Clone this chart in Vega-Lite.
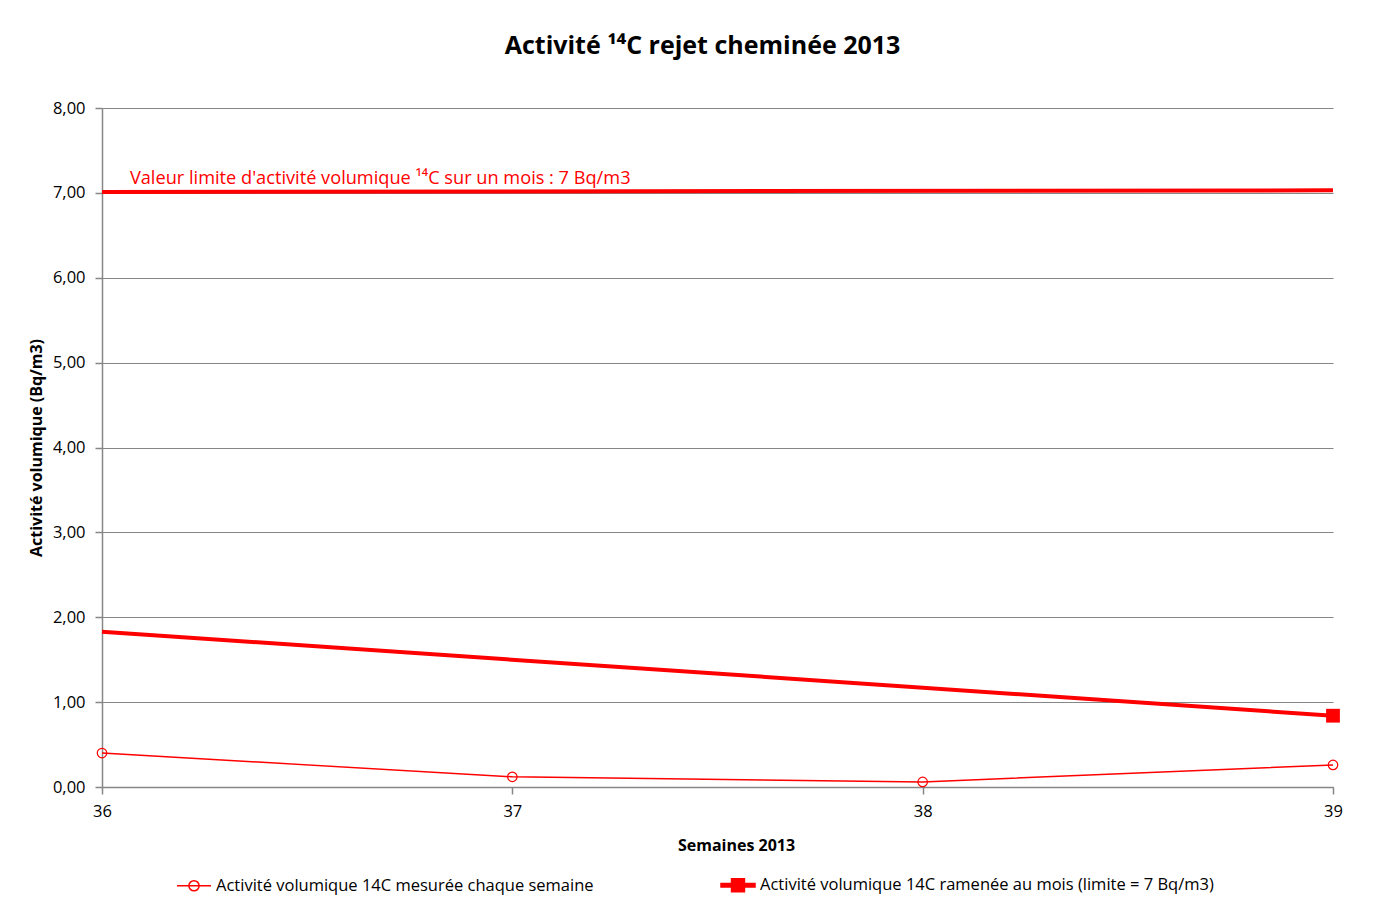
{
  "$schema": "https://vega.github.io/schema/vega-lite/v6.json",
  "autosize": "none",
  "width": 1231,
  "height": 679,
  "padding": {"top": 108, "left": 102, "right": 53, "bottom": 115},
  "background": "white",
  "title": {
    "text": "Activité ¹⁴C rejet cheminée 2013",
    "font": "Open Sans",
    "fontSize": 25,
    "fontWeight": "bold",
    "color": "black",
    "anchor": "middle",
    "baseline": "bottom",
    "offset": 16,
    "dx": -15
  },
  "data": {
    "values": [
      {"semaine": 36, "valeur": 0.40, "serie": "Activité volumique 14C mesurée chaque semaine"},
      {"semaine": 37, "valeur": 0.12, "serie": "Activité volumique 14C mesurée chaque semaine"},
      {"semaine": 38, "valeur": 0.06, "serie": "Activité volumique 14C mesurée chaque semaine"},
      {"semaine": 39, "valeur": 0.26, "serie": "Activité volumique 14C mesurée chaque semaine"},
      {"semaine": 36, "valeur": 1.83, "serie": "Activité volumique 14C ramenée au mois (limite = 7 Bq/m3)"},
      {"semaine": 39, "valeur": 0.84, "serie": "Activité volumique 14C ramenée au mois (limite = 7 Bq/m3)"},
      {"semaine": 36, "valeur": 7.01, "serie": "Limite"},
      {"semaine": 39, "valeur": 7.03, "serie": "Limite"}
    ]
  },
  "encoding": {
    "x": {
      "field": "semaine",
      "type": "quantitative",
      "scale": {"domain": [36, 39], "nice": false, "zero": false},
      "axis": {
        "title": "Semaines 2013",
        "values": [36, 37, 38, 39],
        "format": "d",
        "grid": false,
        "labelFlush": false,
        "tickSize": 7,
        "labelPadding": 9,
        "titlePadding": 18,
        "titleX": 634
      }
    },
    "y": {
      "field": "valeur",
      "type": "quantitative",
      "scale": {"domain": [0, 8], "nice": false},
      "axis": {
        "title": "Activité volumique (Bq/m3)",
        "values": [0, 1, 2, 3, 4, 5, 6, 7, 8],
        "format": ".2f",
        "labelExpr": "replace(datum.label, '.', ',')",
        "grid": true,
        "tickSize": 7,
        "labelPadding": 10,
        "titlePadding": 8
      }
    }
  },
  "layer": [
    {
      "transform": [{"filter": "datum.serie === 'Limite'"}],
      "mark": {"type": "line", "color": "#ff0000", "strokeWidth": 4}
    },
    {
      "transform": [{"filter": "datum.serie === 'Activité volumique 14C ramenée au mois (limite = 7 Bq/m3)'"}],
      "mark": {"type": "line", "color": "#ff0000", "strokeWidth": 4}
    },
    {
      "transform": [{"filter": "datum.serie === 'Activité volumique 14C ramenée au mois (limite = 7 Bq/m3)' && datum.semaine === 39"}],
      "mark": {"type": "point", "shape": "square", "filled": true, "color": "#ff0000", "size": 190, "opacity": 1}
    },
    {
      "transform": [{"filter": "datum.serie === 'Activité volumique 14C mesurée chaque semaine'"}],
      "mark": {"type": "line", "color": "#ff0000", "strokeWidth": 1.5}
    },
    {
      "transform": [{"filter": "datum.serie === 'Activité volumique 14C mesurée chaque semaine'"}],
      "mark": {"type": "point", "shape": "circle", "filled": false, "color": "#ff0000", "size": 90, "strokeWidth": 1.2, "opacity": 1}
    },
    {
      "transform": [{"filter": "datum.serie !== 'Limite'"}],
      "mark": {"type": "point", "filled": true, "opacity": 0, "strokeWidth": 1.5},
      "encoding": {
        "shape": {
          "field": "serie",
          "type": "nominal",
          "scale": {
            "domain": ["Activité volumique 14C mesurée chaque semaine", "Activité volumique 14C ramenée au mois (limite = 7 Bq/m3)"],
            "range": [
              "M-1,0H1M0.3,0A0.3,0.3 0 1 1 -0.3,0A0.3,0.3 0 1 1 0.3,0Z",
              "M-1,-0.1H1V0.1H-1ZM-0.38,-0.38H0.38V0.38H-0.38Z"
            ]
          },
          "legend": {
            "title": null,
            "orient": "none",
            "direction": "horizontal",
            "legendX": 74,
            "legendY": 759,
            "symbolSize": 1156,
            "symbolStrokeColor": "#ff0000",
            "symbolStrokeWidth": 1.5,
            "symbolOpacity": 1,
            "labelFont": "Open Sans",
            "labelFontSize": 16.5,
            "labelColor": "black",
            "labelLimit": 600,
            "labelOffset": 4,
            "columnPadding": 124
          }
        },
        "fill": {
          "field": "serie",
          "type": "nominal",
          "scale": {
            "domain": ["Activité volumique 14C mesurée chaque semaine", "Activité volumique 14C ramenée au mois (limite = 7 Bq/m3)"],
            "range": ["white", "#ff0000"]
          }
        },
        "stroke": {
          "field": "serie",
          "type": "nominal",
          "scale": {
            "domain": ["Activité volumique 14C mesurée chaque semaine", "Activité volumique 14C ramenée au mois (limite = 7 Bq/m3)"],
            "range": ["#ff0000", "#ff0000"]
          }
        }
      }
    },
    {
      "data": {"values": [{"semaine": 36.068, "valeur": 7.1, "label": "Valeur limite d'activité volumique ¹⁴C sur un mois : 7 Bq/m3"}]},
      "mark": {"type": "text", "align": "left", "baseline": "alphabetic", "font": "Open Sans", "fontSize": 18.2, "color": "#ff0000"},
      "encoding": {"text": {"field": "label"}}
    }
  ],
  "config": {
    "view": {"stroke": null},
    "font": "Open Sans",
    "axis": {
      "labelFont": "Open Sans",
      "labelFontSize": 16.5,
      "labelColor": "black",
      "titleFont": "Open Sans",
      "titleFontSize": 16,
      "titleFontWeight": "bold",
      "titleColor": "black",
      "domainColor": "#868686",
      "domainWidth": 1.5,
      "tickColor": "#868686",
      "tickWidth": 1.5,
      "gridColor": "#868686",
      "gridWidth": 1
    }
  }
}
